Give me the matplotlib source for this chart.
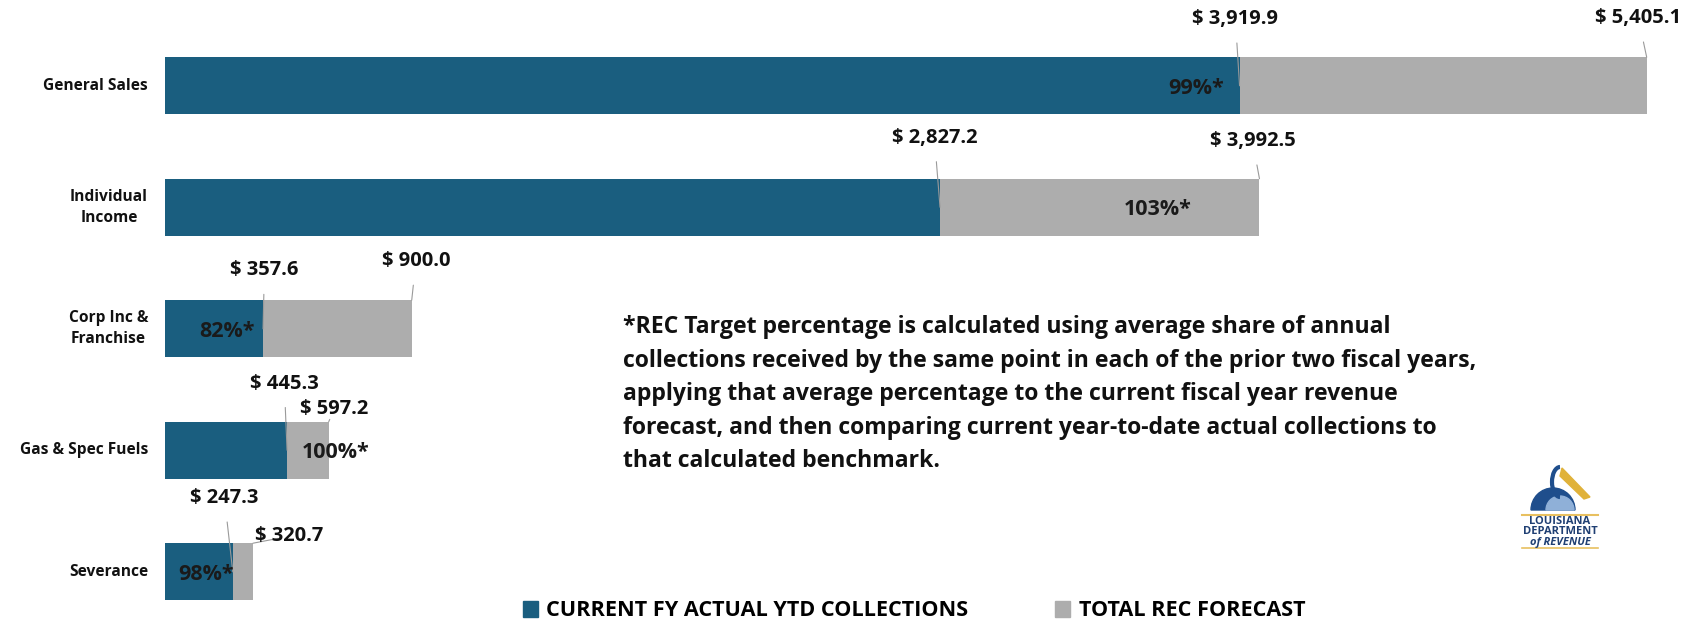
import matplotlib.pyplot as plt
from matplotlib.patches import Patch, Wedge, Polygon, Arc

# data ($ millions)
categories = ['General Sales', 'Individual\nIncome', 'Corp Inc &\nFranchise', 'Gas & Spec Fuels', 'Severance']
actual_ytd = [3919.9, 2827.2, 357.6, 445.3, 247.3]
rec_forecast = [5405.1, 3992.5, 900.0, 597.2, 320.7]
pct_of_target = ['99%*', '103%*', '82%*', '100%*', '98%*']

# layout of labels (offsets from bar end, in points) and percent label x (data units)
actual_lbl_off = [(-3, 48), (-4, 50), (1, 42), (-2, 48), (-6, 53)]
fcst_lbl_off = [(-6, 28), (-5, 27), (3, 28), (4, 9), (26, 5)]
pct_x = [3762, 3621, 225, 623, 150]

BLUE = '#1a5e7f'
GRAY = '#adadad'
TXT = '#111111'
FONT = ['Open Sans', 'DejaVu Sans']

plt.rcParams['font.family'] = FONT
plt.rcParams['font.weight'] = 'bold'

fig = plt.figure(figsize=(16.93, 6.25), dpi=100)
ax = fig.add_axes([165 / 1693, 0, 1 - 165 / 1693, 1])

y = list(range(len(categories)))
h = 0.47
ax.barh(y, rec_forecast, height=h, color=GRAY, label='TOTAL REC FORECAST')
ax.barh(y, actual_ytd, height=h, color=BLUE, label='CURRENT FY ACTUAL YTD COLLECTIONS')

ax.set_xlim(0, 5574)
ax.set_ylim(4.438, -0.706)
ax.axis('off')

for i, cat in enumerate(categories):
    ax.text(-62, i, cat, ha='right', va='center', multialignment='center',
            fontsize=11.2, fontweight='bold', color=TXT, linespacing=1.45)

    # actual value label, line to the middle of the blue bar end
    ax.annotate(f'$ {actual_ytd[i]:,.1f}', xy=(actual_ytd[i], i),
                xytext=actual_lbl_off[i], textcoords='offset points',
                ha='center', va='center', fontsize=14.5, fontweight='bold', color=TXT,
                arrowprops=dict(arrowstyle='-', color='#9a9a9a', lw=0.8,
                                shrinkA=8, shrinkB=0))
    # forecast value label, line to the top of the gray bar end
    ax.annotate(f'$ {rec_forecast[i]:,.1f}', xy=(rec_forecast[i], i - h / 2),
                xytext=fcst_lbl_off[i], textcoords='offset points',
                ha='center', va='center', fontsize=14.5, fontweight='bold', color=TXT,
                arrowprops=dict(arrowstyle='-', color='#9a9a9a', lw=0.8,
                                shrinkA=8, shrinkB=0))
    ax.text(pct_x[i], i + 0.02, pct_of_target[i], ha='center', va='center',
            fontsize=15.5, fontweight='bold', color='#1a1a1a')

note = ('*REC Target percentage is calculated using average share of annual\n'
        'collections received by the same point in each of the prior two fiscal years,\n'
        'applying that average percentage to the current fiscal year revenue\n'
        'forecast, and then comparing current year-to-date actual collections to\n'
        'that calculated benchmark.')
fig.text(623 / 1693, 1 - 315 / 625, note, ha='left', va='top', fontsize=16.6,
         fontweight='bold', color=TXT, linespacing=1.53)

# logo stand-in (pelican + wordmark)
lax = fig.add_axes([1510 / 1693, 1 - 560 / 625, 95 / 1693, 110 / 625])
lax.set_xlim(1510, 1605)
lax.set_ylim(560, 450)
lax.axis('off')
lax.add_patch(Wedge((1553, 510), 22, 180, 360, color='#1f4e8c'))
lax.add_patch(Wedge((1560, 510), 14, 180, 360, color='#8fb0d8'))
lax.add_patch(Arc((1560, 482), 16, 30, theta1=90, theta2=270, color='#1f4e8c', lw=3))
lax.add_patch(Polygon([(1562, 468), (1590, 497), (1584, 499), (1560, 476)], color='#e0b23a'))
lax.plot([1522, 1598], [515, 515], color='#e8c060', lw=1.5)
lax.plot([1522, 1598], [548, 548], color='#e8c060', lw=1.2)
lax.text(1560, 522, 'LOUISIANA', ha='center', va='center', fontsize=8,
         fontweight='bold', color='#1f3f73')
lax.text(1560, 532, 'DEPARTMENT', ha='center', va='center', fontsize=8,
         fontweight='bold', color='#1f3f73')
lax.text(1560, 542, 'of REVENUE', ha='center', va='center', fontsize=8,
         fontweight='bold', style='italic', color='#1f3f73')

handles = [Patch(color=BLUE), Patch(color=GRAY)]
fig.legend(handles, ['CURRENT FY ACTUAL YTD COLLECTIONS', 'TOTAL REC FORECAST'],
           loc='center', bbox_to_anchor=(914 / 1693, 14 / 625), ncol=2, frameon=False,
           prop={'family': FONT, 'weight': 'bold', 'size': 15.6},
           handlelength=0.7, handleheight=0.7, handletextpad=0.4, columnspacing=4.0)

fig.savefig('out.png', dpi=100, facecolor='white')
